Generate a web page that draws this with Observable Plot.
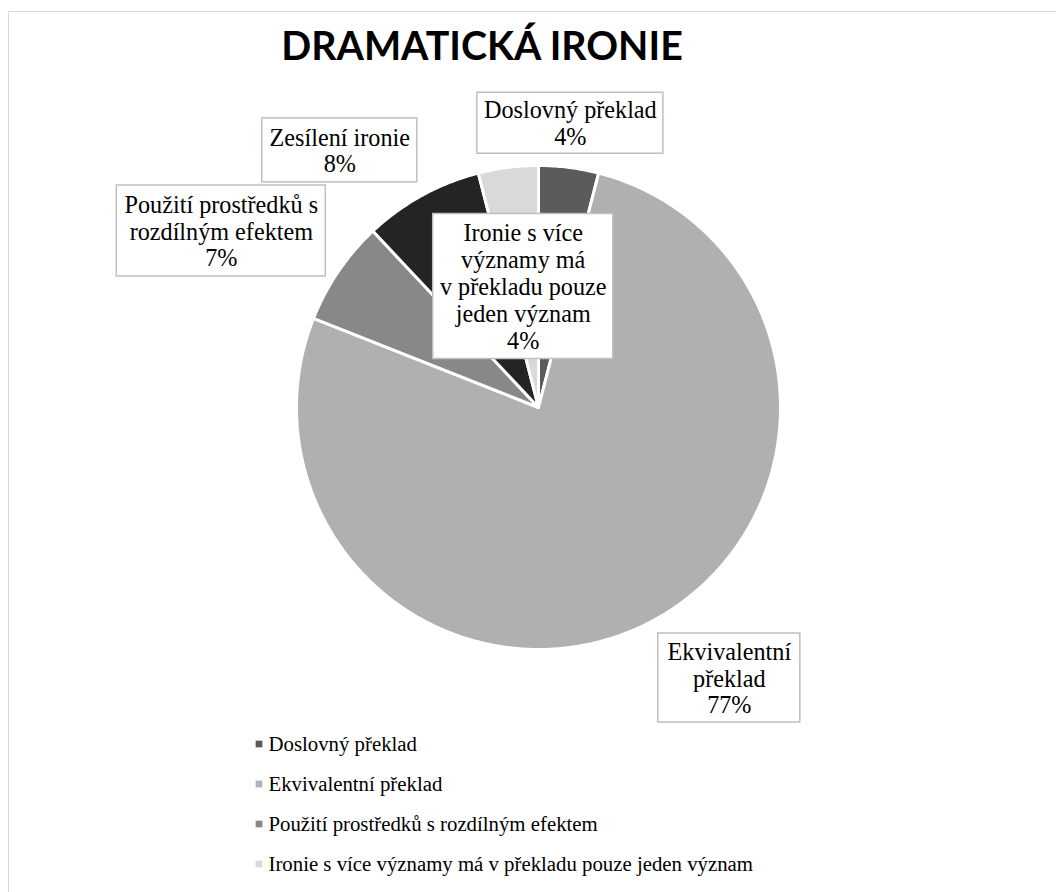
<!DOCTYPE html>
<html><head><meta charset="utf-8">
<script src="https://cdn.jsdelivr.net/npm/d3@7"></script>
<script src="https://cdn.jsdelivr.net/npm/@observablehq/plot@0.6"></script>
<style>
html,body{margin:0;padding:0;background:#fff;overflow:hidden;width:1056px;height:892px;}
#frame{position:absolute;left:8px;top:11px;width:1100px;height:1000px;border-left:1.5px solid #d9d9d9;border-top:1.5px solid #d9d9d9;}
#chart{position:absolute;left:0;top:0;}
#chart svg text, #chart svg tspan{font-family:"Liberation Serif","Times New Roman",serif;}
#chart svg text.title{font-family:Lato,sans-serif;}
</style></head><body>
<div id="frame"></div>
<div id="chart"></div>
<script>
// ---- data ----
const title = "DRAMATICKÁ IRONIE";
const categories = [
  "Doslovný překlad",
  "Ekvivalentní překlad",
  "Použití prostředků s rozdílným efektem",
  "Zesílení ironie",
  "Ironie s více významy má v překladu pouze jeden význam"
];
const percents = [4, 77, 7, 8, 4];
const labelLines = [
  ["Doslovný překlad"],
  ["Ekvivalentní", "překlad"],
  ["Použití prostředků s", "rozdílným efektem"],
  ["Zesílení ironie"],
  ["Ironie s více", "významy má", "v překladu pouze", "jeden význam"]
];
// legend entries visible in the picture (the fifth falls below the edge)
const legendItems = [
  "Doslovný překlad",
  "Ekvivalentní překlad",
  "Použití prostředků s rozdílným efektem",
  "Ironie s více významy má v překladu pouze jeden význam"
];

// ---- style / layout ----
const colors = ["#5b5b5b", "#b0b0b0", "#888888", "#242424", "#d9d9d9"];
const serif = "Liberation Serif, Times New Roman, serif";
const W = 1056, H = 892;
const cx = 538, cy = 407, R = 242;
// label placement: radius factor and angle shift (deg), box size
const labelLayout = [
  {k: 1.182, shift: -0.8, w: 186, h: 61},
  {k: 1.368, shift: -8.2, w: 142, h: 89},
  {k: 1.50,  shift: -5.1, w: 209, h: 91},
  {k: 1.343, shift: -8.9, w: 155, h: 64},
  {k: 0.504, shift: 0,    w: 180, h: 145}
];
const legendX = 258.5, legendTextX = 268, legendY0 = 743.5, legendStep = 40;

const data = categories.map((c, i) => ({cat: c, value: percents[i], i}));
const arcs = d3.pie().sort(null).value(d => d.value)(data);

// slice polygons
const slicePts = [];
for (const a of arcs) {
  const c = a.data.cat;
  slicePts.push({cat: c, x: cx, y: cy});
  const n = Math.max(4, Math.ceil((a.endAngle - a.startAngle) / 0.01));
  for (let j = 0; j <= n; j++) {
    const t = a.startAngle + (a.endAngle - a.startAngle) * j / n;
    slicePts.push({cat: c, x: cx + R * Math.sin(t), y: cy - R * Math.cos(t)});
  }
  slicePts.push({cat: c, x: cx, y: cy});
}

// labels
const labels = arcs.map((a, i) => {
  const L = labelLayout[i];
  const mid = (a.startAngle + a.endAngle) / 2 + L.shift * Math.PI / 180;
  const x = cx + L.k * R * Math.sin(mid);
  const y = cy - L.k * R * Math.cos(mid);
  return {
    cat: a.data.cat, x, y,
    x1: x - L.w / 2, x2: x + L.w / 2, y1: y - L.h / 2, y2: y + L.h / 2,
    text: labelLines[i].join("\n") + "\n" + a.data.value + "%"
  };
});

const legend = legendItems.map((c, i) => ({cat: c, y: legendY0 + i * legendStep}));

const chart = Plot.plot({
  width: W, height: H, margin: 0,
  style: {background: "transparent", fontFamily: serif},
  x: {domain: [0, W], range: [0, W], axis: null},
  y: {domain: [0, H], range: [0, H], axis: null},
  color: {domain: categories, range: colors},
  marks: [
    Plot.line(slicePts, {x: "x", y: "y", z: "cat", fill: "cat", stroke: "white", strokeWidth: 3, strokeLinejoin: "round", curve: "linear"}),
    Plot.rect(labels, {x1: "x1", x2: "x2", y1: "y1", y2: "y2", fill: "white", stroke: "#bfbfbf", strokeWidth: 1.5}),
    Plot.text(labels, {x: "x", y: "y", text: "text", fontFamily: serif, fontSize: 24.2, lineHeight: 1.11, fill: "#000"}),
    Plot.text([title], {x: () => 481.5, y: () => 47, text: d => d, fontFamily: "Lato", fontWeight: 700, fontSize: 39.4, fill: "#000"}),
    Plot.dot(legend, {x: () => legendX, y: "y", symbol: "square", r: 3.8, fill: "cat", stroke: null}),
    Plot.text(legend, {x: () => legendTextX, y: "y", text: "cat", textAnchor: "start", fontFamily: serif, fontSize: 20.8, fill: "#000"})
  ]
});
chart.querySelectorAll("text").forEach(t => {
  if (t.textContent === title) t.setAttribute("class", "title");
});
document.getElementById("chart").appendChild(chart);
</script>
</body></html>
